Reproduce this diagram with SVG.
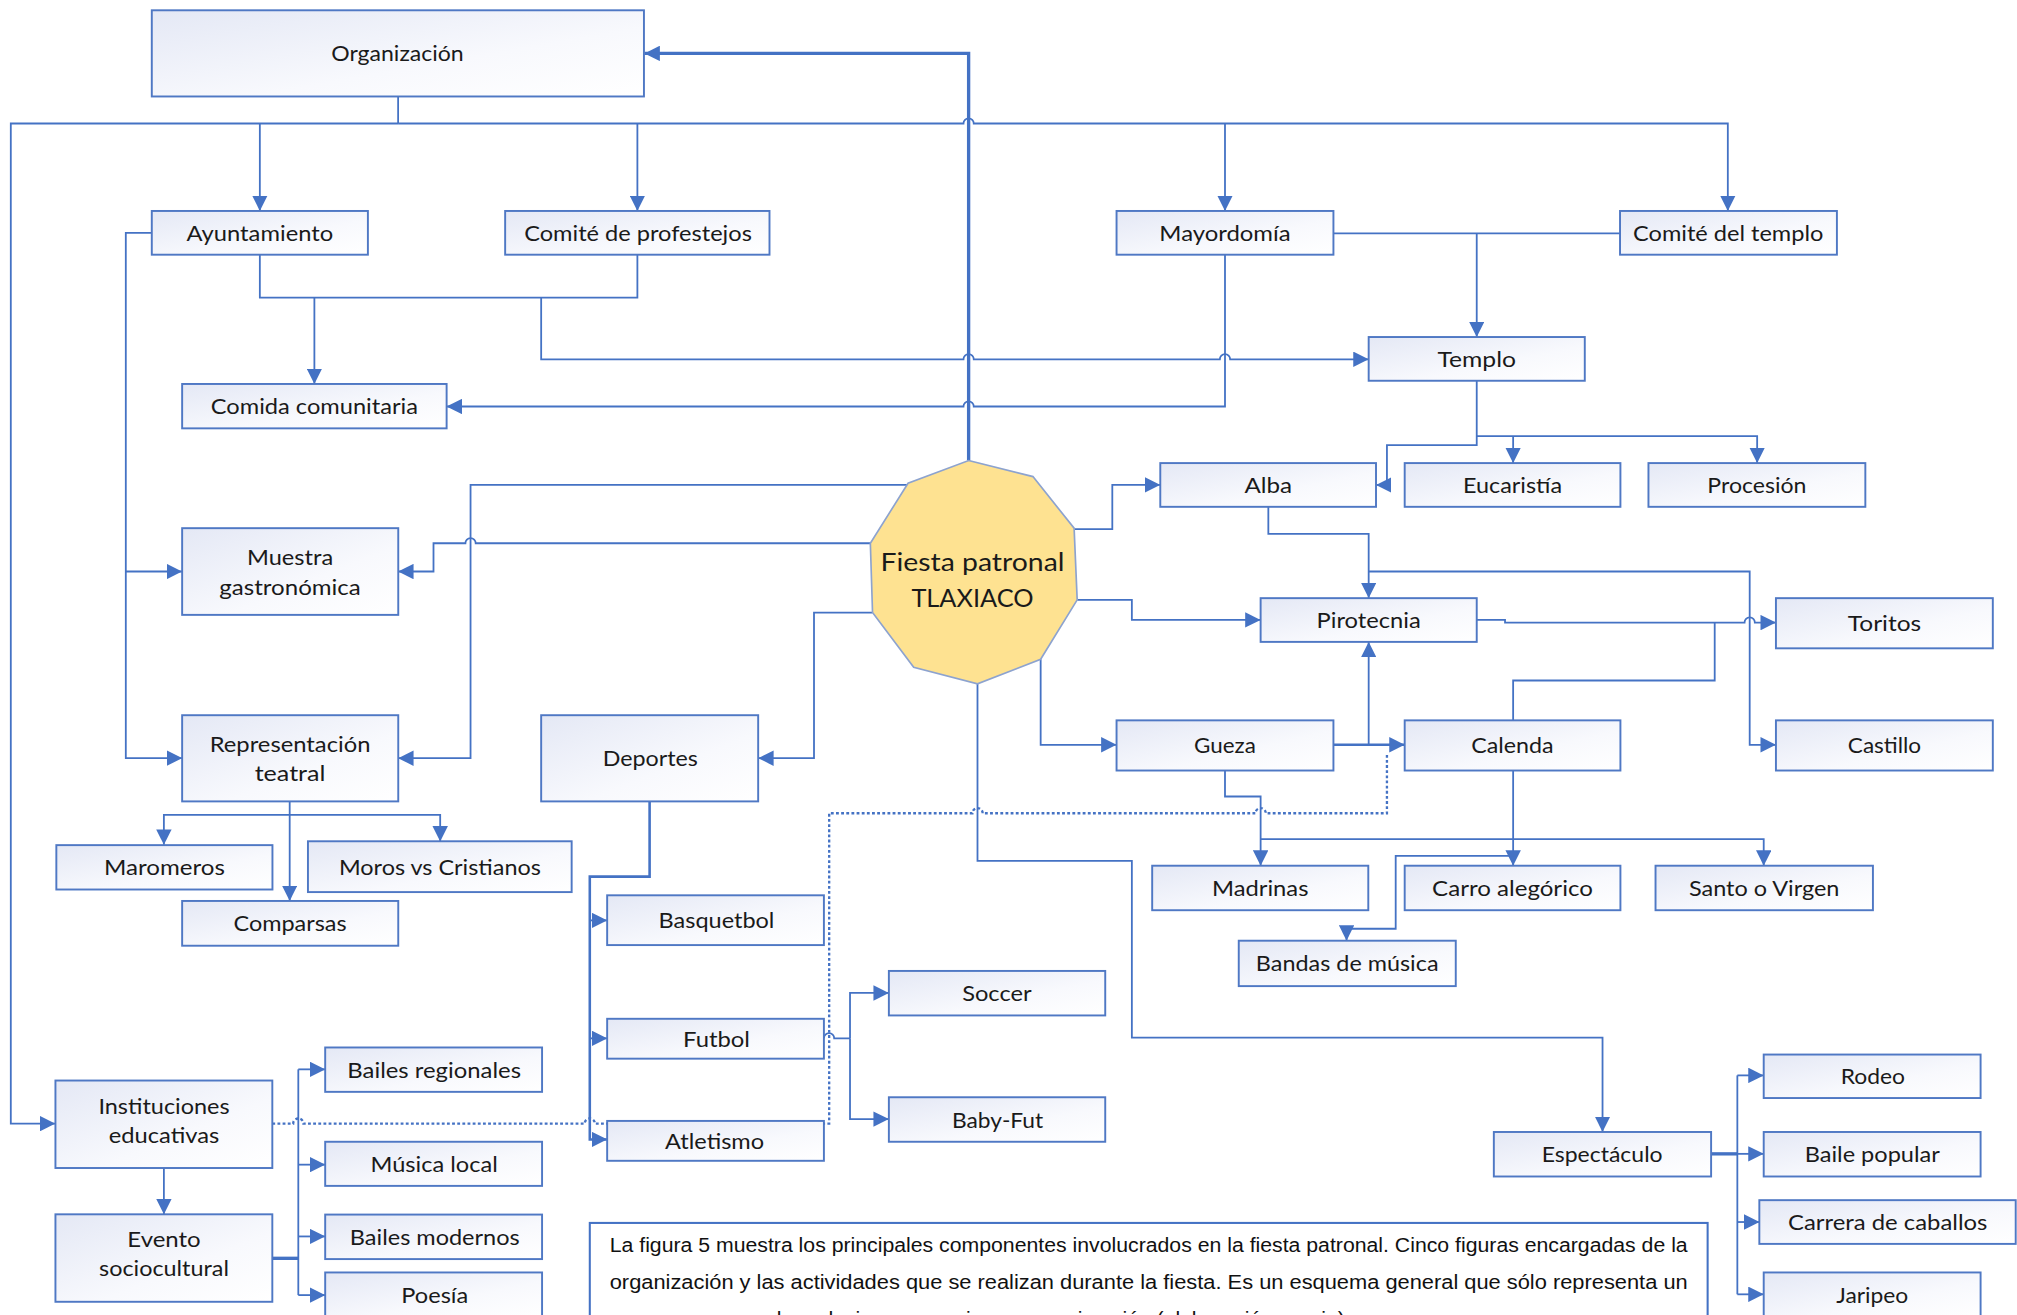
<svg xmlns="http://www.w3.org/2000/svg" width="2017" height="1315" viewBox="0 0 2017 1315">
<defs>
<linearGradient id="bg" x1="0" y1="0" x2="1" y2="1">
<stop offset="0" stop-color="#E4E8F5"/>
<stop offset="0.6" stop-color="#F8F9FD"/>
<stop offset="1" stop-color="#FFFFFF"/>
</linearGradient>
<marker id="ah" viewBox="0 0 10 10" refX="10" refY="5" markerWidth="12" markerHeight="12" markerUnits="userSpaceOnUse" orient="auto"><path d="M0,0L10,5L0,10z" fill="#4472C4"/></marker>
<style>
.b{fill:url(#bg);stroke:#4F78C4;stroke-width:1.5}
.t{font-family:Lato,"Open Sans",sans-serif;font-size:16.5px;fill:#1a1a1a;text-anchor:middle;dominant-baseline:central}
.c{fill:none;stroke:#4472C4;stroke-width:1.4}
.a{marker-end:url(#ah)}
.k{stroke-width:2.6}
.m{stroke-width:2}
.d{fill:none;stroke:#4472C4;stroke-width:1.8;stroke-dasharray:2.2 1.8}
.cap{font-family:"Liberation Sans Narrow","Liberation Sans",Arial,sans-serif;font-size:16px;fill:#111}
</style>
</defs>
<rect width="2017" height="1315" fill="#fff"/>
<g transform="scale(1.28635)">
<g id="connectors">
<path class="c a k" d="M753,358 V41.5 H501"/>
<path class="c" d="M309.5,75 V96"/>
<path class="c a" d="M309.5,96 H8.4 V873.5 H43"/>
<path class="c a" d="M309.5,96 H749 a4,4 0 0 1 8,0 H1343.2 V164"/>
<path class="c a" d="M202,96 V164"/>
<path class="c a" d="M495.5,96 V164"/>
<path class="c a" d="M952.3,96 V164"/>
<path class="c a" d="M118,181 H97.8 V589.4 H141.6"/>
<path class="c a" d="M97.8,444.3 H141.6"/>
<path class="c" d="M202,198 V231.4 H495.5 V198"/>
<path class="c a" d="M244.4,231.4 V298.5"/>
<path class="c a" d="M420.7,231.4 V279.3 H749 a4,4 0 0 1 8,0 H948.3 a4,4 0 0 1 8,0 H1064"/>
<path class="c a" d="M952.3,198 V316 H757 a4,4 0 0 0 -8,0 H347.2"/>
<path class="c" d="M1036.6,181.4 H1259.4"/>
<path class="c a" d="M1148,181.4 V262"/>
<path class="c a" d="M1148,296 V346 H1078.2 V377 H1069.7"/>
<path class="c a" d="M1148,339 H1366 V360"/>
<path class="c a" d="M1176.3,339 V360"/>
<path class="c a" d="M835,411.4 H864.7 V377 H902"/>
<path class="c a" d="M986,394 V415 H1064 V465"/>
<path class="c a" d="M1064,444.3 H1360.2 V579 H1380.6"/>
<path class="c a" d="M837.4,466.3 H879.9 V481.9 H980"/>
<path class="c a" d="M1148,481.9 H1170 V484 H1356.2 a4,4 0 0 1 8,0 H1380.6"/>
<path class="c" d="M1176.3,560 V529 H1333 V484"/>
<path class="c a" d="M809,512.5 V579 H868"/>
<path class="c a m" d="M1036.6,579 H1092"/>
<path class="c a" d="M1064,579 V499"/>
<path class="c a" d="M676.6,422.3 H369.8 a4,4 0 0 0 -8,0 H337 V444.3 H309.5"/>
<path class="c a" d="M705.9,377 H365.8 V589.4 H309.5"/>
<path class="c a" d="M678.3,476.2 H632.8 V589.4 H589.4"/>
<path class="c a" d="M225.2,623.1 V700.4"/>
<path class="c a" d="M225.2,633.5 H127.4 V656.8"/>
<path class="c a" d="M225.2,633.5 H342.2 V654.2"/>
<path class="c a m" d="M505,623.1 V681.5 H458.5 V885.8 H472"/>
<path class="c a" d="M458.5,715.5 H472"/>
<path class="c a" d="M458.5,807.2 H472"/>
<path class="c" d="M640.5,807.2 a4,4 0 0 1 8,0 H660.8"/>
<path class="c a" d="M660.8,807.2 V771.9 H691"/>
<path class="c a" d="M660.8,807.2 V870 H691"/>
<path class="c a" d="M759.9,531.6 V669.2 H879.9 V806.7 H1245.8 V880"/>
<path class="c a" d="M952.3,599 V619.2 H980 V673"/>
<path class="c a" d="M1176.3,599 V673"/>
<path class="c a" d="M980,652.4 H1371.1 V673"/>
<path class="c a" d="M1176.3,665.3 H1085 V722 H1046.8 V731.3"/>
<path class="c k" d="M1330.2,897 H1350.6"/>
<path class="c" d="M1350.6,836 V1006.2"/>
<path class="c a" d="M1350.6,836 H1371.1"/>
<path class="c a" d="M1350.6,897 H1371.1"/>
<path class="c a" d="M1350.6,950 H1367.7"/>
<path class="c a" d="M1350.6,1006.2 H1371.1"/>
<path class="c a" d="M127.4,908 V944"/>
<path class="c k" d="M211.7,978.2 H231.9"/>
<path class="c" d="M231.9,831.3 V1006.8"/>
<path class="c a" d="M231.9,831.3 H252.8"/>
<path class="c a" d="M231.9,905.4 H252.8"/>
<path class="c a" d="M231.9,961.2 H252.8"/>
<path class="c a" d="M231.9,1006.8 H252.8"/>
<path class="d" d="M211.7,873.5 H227.9 a4,4 0 0 1 8,0 H454.5 a4,4 0 0 1 8,0 H644.6 V632.2 H755.9 a4,4 0 0 1 8,0 H976 a4,4 0 0 1 8,0 H1078.2 V587"/>
</g>
<g id="fiesta">
<polygon points="753,358 803,370.5 835,410.6 837.4,466.3 809,512.5 759.9,531.6 710.3,518.7 678.3,476.2 676.6,422.3 705.9,375.7" fill="#FEE291" stroke="#8DA3CF" stroke-width="1.3"/>
<text class="t" x="756" y="436" textLength="143" lengthAdjust="spacingAndGlyphs" style="font-size:20px">Fiesta patronal</text>
<text class="t" x="756" y="464" textLength="95" lengthAdjust="spacingAndGlyphs" style="font-size:20px">TLAXIACO</text>
</g>
<g id="organizacion"><rect class="b" x="118" y="8" width="382.6" height="67"/><text class="t" x="309" y="41" textLength="103" lengthAdjust="spacingAndGlyphs">Organización</text></g>
<g id="ayuntamiento"><rect class="b" x="118" y="164" width="168" height="34"/><text class="t" x="202" y="181" textLength="114" lengthAdjust="spacingAndGlyphs">Ayuntamiento</text></g>
<g id="comite-profestejos"><rect class="b" x="392.7" y="164" width="205.5" height="34"/><text class="t" x="496" y="181" textLength="177" lengthAdjust="spacingAndGlyphs">Comité de profestejos</text></g>
<g id="mayordomia"><rect class="b" x="868" y="164" width="168.6" height="34"/><text class="t" x="952.3" y="181" textLength="102" lengthAdjust="spacingAndGlyphs">Mayordomía</text></g>
<g id="comite-templo"><rect class="b" x="1259.4" y="164" width="168.6" height="34"/><text class="t" x="1343.5" y="181" textLength="148" lengthAdjust="spacingAndGlyphs">Comité del templo</text></g>
<g id="templo"><rect class="b" x="1064" y="262" width="168" height="34"/><text class="t" x="1148" y="279" textLength="61" lengthAdjust="spacingAndGlyphs">Templo</text></g>
<g id="comida"><rect class="b" x="141.6" y="298.5" width="205.6" height="34.5"/><text class="t" x="244.4" y="316" textLength="161" lengthAdjust="spacingAndGlyphs">Comida comunitaria</text></g>
<g id="alba"><rect class="b" x="902" y="360" width="167.7" height="34"/><text class="t" x="986" y="377" textLength="37" lengthAdjust="spacingAndGlyphs">Alba</text></g>
<g id="eucaristia"><rect class="b" x="1092" y="360" width="167.7" height="34"/><text class="t" x="1175.8" y="377" textLength="77" lengthAdjust="spacingAndGlyphs">Eucaristía</text></g>
<g id="procesion"><rect class="b" x="1281.5" y="360" width="168.6" height="34"/><text class="t" x="1365.8" y="377" textLength="77" lengthAdjust="spacingAndGlyphs">Procesión</text></g>
<g id="muestra"><rect class="b" x="141.6" y="410.6" width="168" height="67.4"/><text class="t" x="225.5" y="433" textLength="67" lengthAdjust="spacingAndGlyphs">Muestra</text><text class="t" x="225.5" y="456" textLength="110" lengthAdjust="spacingAndGlyphs">gastronómica</text></g>
<g id="pirotecnia"><rect class="b" x="980" y="465" width="168" height="34"/><text class="t" x="1064" y="482" textLength="81" lengthAdjust="spacingAndGlyphs">Pirotecnia</text></g>
<g id="toritos"><rect class="b" x="1380.6" y="465" width="168.6" height="39"/><text class="t" x="1465" y="484.5" textLength="57" lengthAdjust="spacingAndGlyphs">Toritos</text></g>
<g id="castillo"><rect class="b" x="1380.6" y="560" width="168.6" height="39"/><text class="t" x="1465" y="579.5" textLength="57" lengthAdjust="spacingAndGlyphs">Castillo</text></g>
<g id="gueza"><rect class="b" x="868" y="560" width="168.6" height="39"/><text class="t" x="952.3" y="579.5" textLength="48" lengthAdjust="spacingAndGlyphs">Gueza</text></g>
<g id="calenda"><rect class="b" x="1092" y="560" width="167.7" height="39"/><text class="t" x="1175.8" y="579.5" textLength="64" lengthAdjust="spacingAndGlyphs">Calenda</text></g>
<g id="representacion"><rect class="b" x="141.6" y="556" width="168" height="67"/><text class="t" x="225.5" y="578" textLength="125" lengthAdjust="spacingAndGlyphs">Representación</text><text class="t" x="225.5" y="601" textLength="55" lengthAdjust="spacingAndGlyphs">teatral</text></g>
<g id="deportes"><rect class="b" x="420.7" y="556" width="168.7" height="67"/><text class="t" x="505.5" y="589.5" textLength="74" lengthAdjust="spacingAndGlyphs">Deportes</text></g>
<g id="maromeros"><rect class="b" x="43.8" y="657" width="168" height="34.5"/><text class="t" x="127.8" y="674.2" textLength="94" lengthAdjust="spacingAndGlyphs">Maromeros</text></g>
<g id="moros"><rect class="b" x="239.4" y="654" width="205" height="39.5"/><text class="t" x="342" y="673.8" textLength="157" lengthAdjust="spacingAndGlyphs">Moros vs Cristianos</text></g>
<g id="comparsas"><rect class="b" x="141.6" y="700.4" width="168" height="34.8"/><text class="t" x="225.5" y="717.8" textLength="88" lengthAdjust="spacingAndGlyphs">Comparsas</text></g>
<g id="madrinas"><rect class="b" x="895.7" y="673" width="168" height="34.6"/><text class="t" x="979.7" y="690.3" textLength="75" lengthAdjust="spacingAndGlyphs">Madrinas</text></g>
<g id="carro"><rect class="b" x="1092" y="673" width="167.7" height="34.6"/><text class="t" x="1175.8" y="690.3" textLength="125" lengthAdjust="spacingAndGlyphs">Carro alegórico</text></g>
<g id="santo"><rect class="b" x="1287" y="673" width="169" height="34.6"/><text class="t" x="1371.5" y="690.3" textLength="117" lengthAdjust="spacingAndGlyphs">Santo o Virgen</text></g>
<g id="bandas"><rect class="b" x="963" y="731.3" width="168.7" height="35.3"/><text class="t" x="1047.3" y="749" textLength="142" lengthAdjust="spacingAndGlyphs">Bandas de música</text></g>
<g id="basquetbol"><rect class="b" x="472" y="696" width="168.5" height="38.7"/><text class="t" x="557" y="715.3" textLength="90" lengthAdjust="spacingAndGlyphs">Basquetbol</text></g>
<g id="soccer"><rect class="b" x="691" y="754.8" width="168.2" height="34.6"/><text class="t" x="775" y="772" textLength="54" lengthAdjust="spacingAndGlyphs">Soccer</text></g>
<g id="futbol"><rect class="b" x="472" y="792" width="168.5" height="31"/><text class="t" x="557" y="807.5" textLength="52" lengthAdjust="spacingAndGlyphs">Futbol</text></g>
<g id="babyfut"><rect class="b" x="691" y="853" width="168.2" height="34.6"/><text class="t" x="775.5" y="870.3" textLength="71" lengthAdjust="spacingAndGlyphs">Baby-Fut</text></g>
<g id="atletismo"><rect class="b" x="472" y="871.4" width="168.5" height="31"/><text class="t" x="555.5" y="886.8" textLength="77" lengthAdjust="spacingAndGlyphs">Atletismo</text></g>
<g id="bailes-regionales"><rect class="b" x="252.8" y="814.3" width="168.6" height="34.5"/><text class="t" x="337.5" y="831.5" textLength="135" lengthAdjust="spacingAndGlyphs">Bailes regionales</text></g>
<g id="instituciones"><rect class="b" x="43.1" y="840" width="168.6" height="68"/><text class="t" x="127.5" y="859.5" textLength="102" lengthAdjust="spacingAndGlyphs">Instituciones</text><text class="t" x="127.5" y="882.5" textLength="86" lengthAdjust="spacingAndGlyphs">educativas</text></g>
<g id="musica-local"><rect class="b" x="252.8" y="887.6" width="168.6" height="34.3"/><text class="t" x="337.5" y="904.7" textLength="99" lengthAdjust="spacingAndGlyphs">Música local</text></g>
<g id="evento"><rect class="b" x="43.1" y="944" width="168.6" height="68"/><text class="t" x="127.5" y="963" textLength="57" lengthAdjust="spacingAndGlyphs">Evento</text><text class="t" x="127.5" y="986" textLength="101" lengthAdjust="spacingAndGlyphs">sociocultural</text></g>
<g id="bailes-modernos"><rect class="b" x="252.8" y="944.2" width="168.6" height="34.6"/><text class="t" x="338" y="961.5" textLength="132" lengthAdjust="spacingAndGlyphs">Bailes modernos</text></g>
<g id="poesia"><rect class="b" x="252.8" y="989.2" width="168.6" height="34.6"/><text class="t" x="338" y="1006.5" textLength="52" lengthAdjust="spacingAndGlyphs">Poesía</text></g>
<g id="espectaculo"><rect class="b" x="1161.3" y="880" width="168.9" height="34.6"/><text class="t" x="1245.5" y="897.3" textLength="94" lengthAdjust="spacingAndGlyphs">Espectáculo</text></g>
<g id="rodeo"><rect class="b" x="1371.1" y="819.8" width="168.6" height="33.8"/><text class="t" x="1456" y="836.7" textLength="50" lengthAdjust="spacingAndGlyphs">Rodeo</text></g>
<g id="baile-popular"><rect class="b" x="1371.1" y="880" width="168.6" height="34.6"/><text class="t" x="1455.5" y="897.3" textLength="105" lengthAdjust="spacingAndGlyphs">Baile popular</text></g>
<g id="carrera"><rect class="b" x="1367.7" y="933" width="199.3" height="34"/><text class="t" x="1467.5" y="950" textLength="155" lengthAdjust="spacingAndGlyphs">Carrera de caballos</text></g>
<g id="jaripeo"><rect class="b" x="1371.1" y="989.2" width="168.6" height="35.4"/><text class="t" x="1455.5" y="1007" textLength="56" lengthAdjust="spacingAndGlyphs">Jaripeo</text></g>
<g id="caption">
<rect x="458.5" y="950.7" width="869" height="90" fill="#fff" stroke="#4472C4" stroke-width="1.6"/>
<text class="cap" x="474" y="973" textLength="838" lengthAdjust="spacingAndGlyphs">La figura 5 muestra los principales componentes involucrados en la fiesta patronal. Cinco figuras encargadas de la</text>
<text class="cap" x="474" y="1002" textLength="838" lengthAdjust="spacingAndGlyphs">organización y las actividades que se realizan durante la fiesta. Es un esquema general que sólo representa un</text>
<text class="cap" x="474" y="1031" textLength="576" lengthAdjust="spacingAndGlyphs">panorama general, es decir, es una primera aproximación (elaboración propia).</text>
</g>
</g>
</svg>
